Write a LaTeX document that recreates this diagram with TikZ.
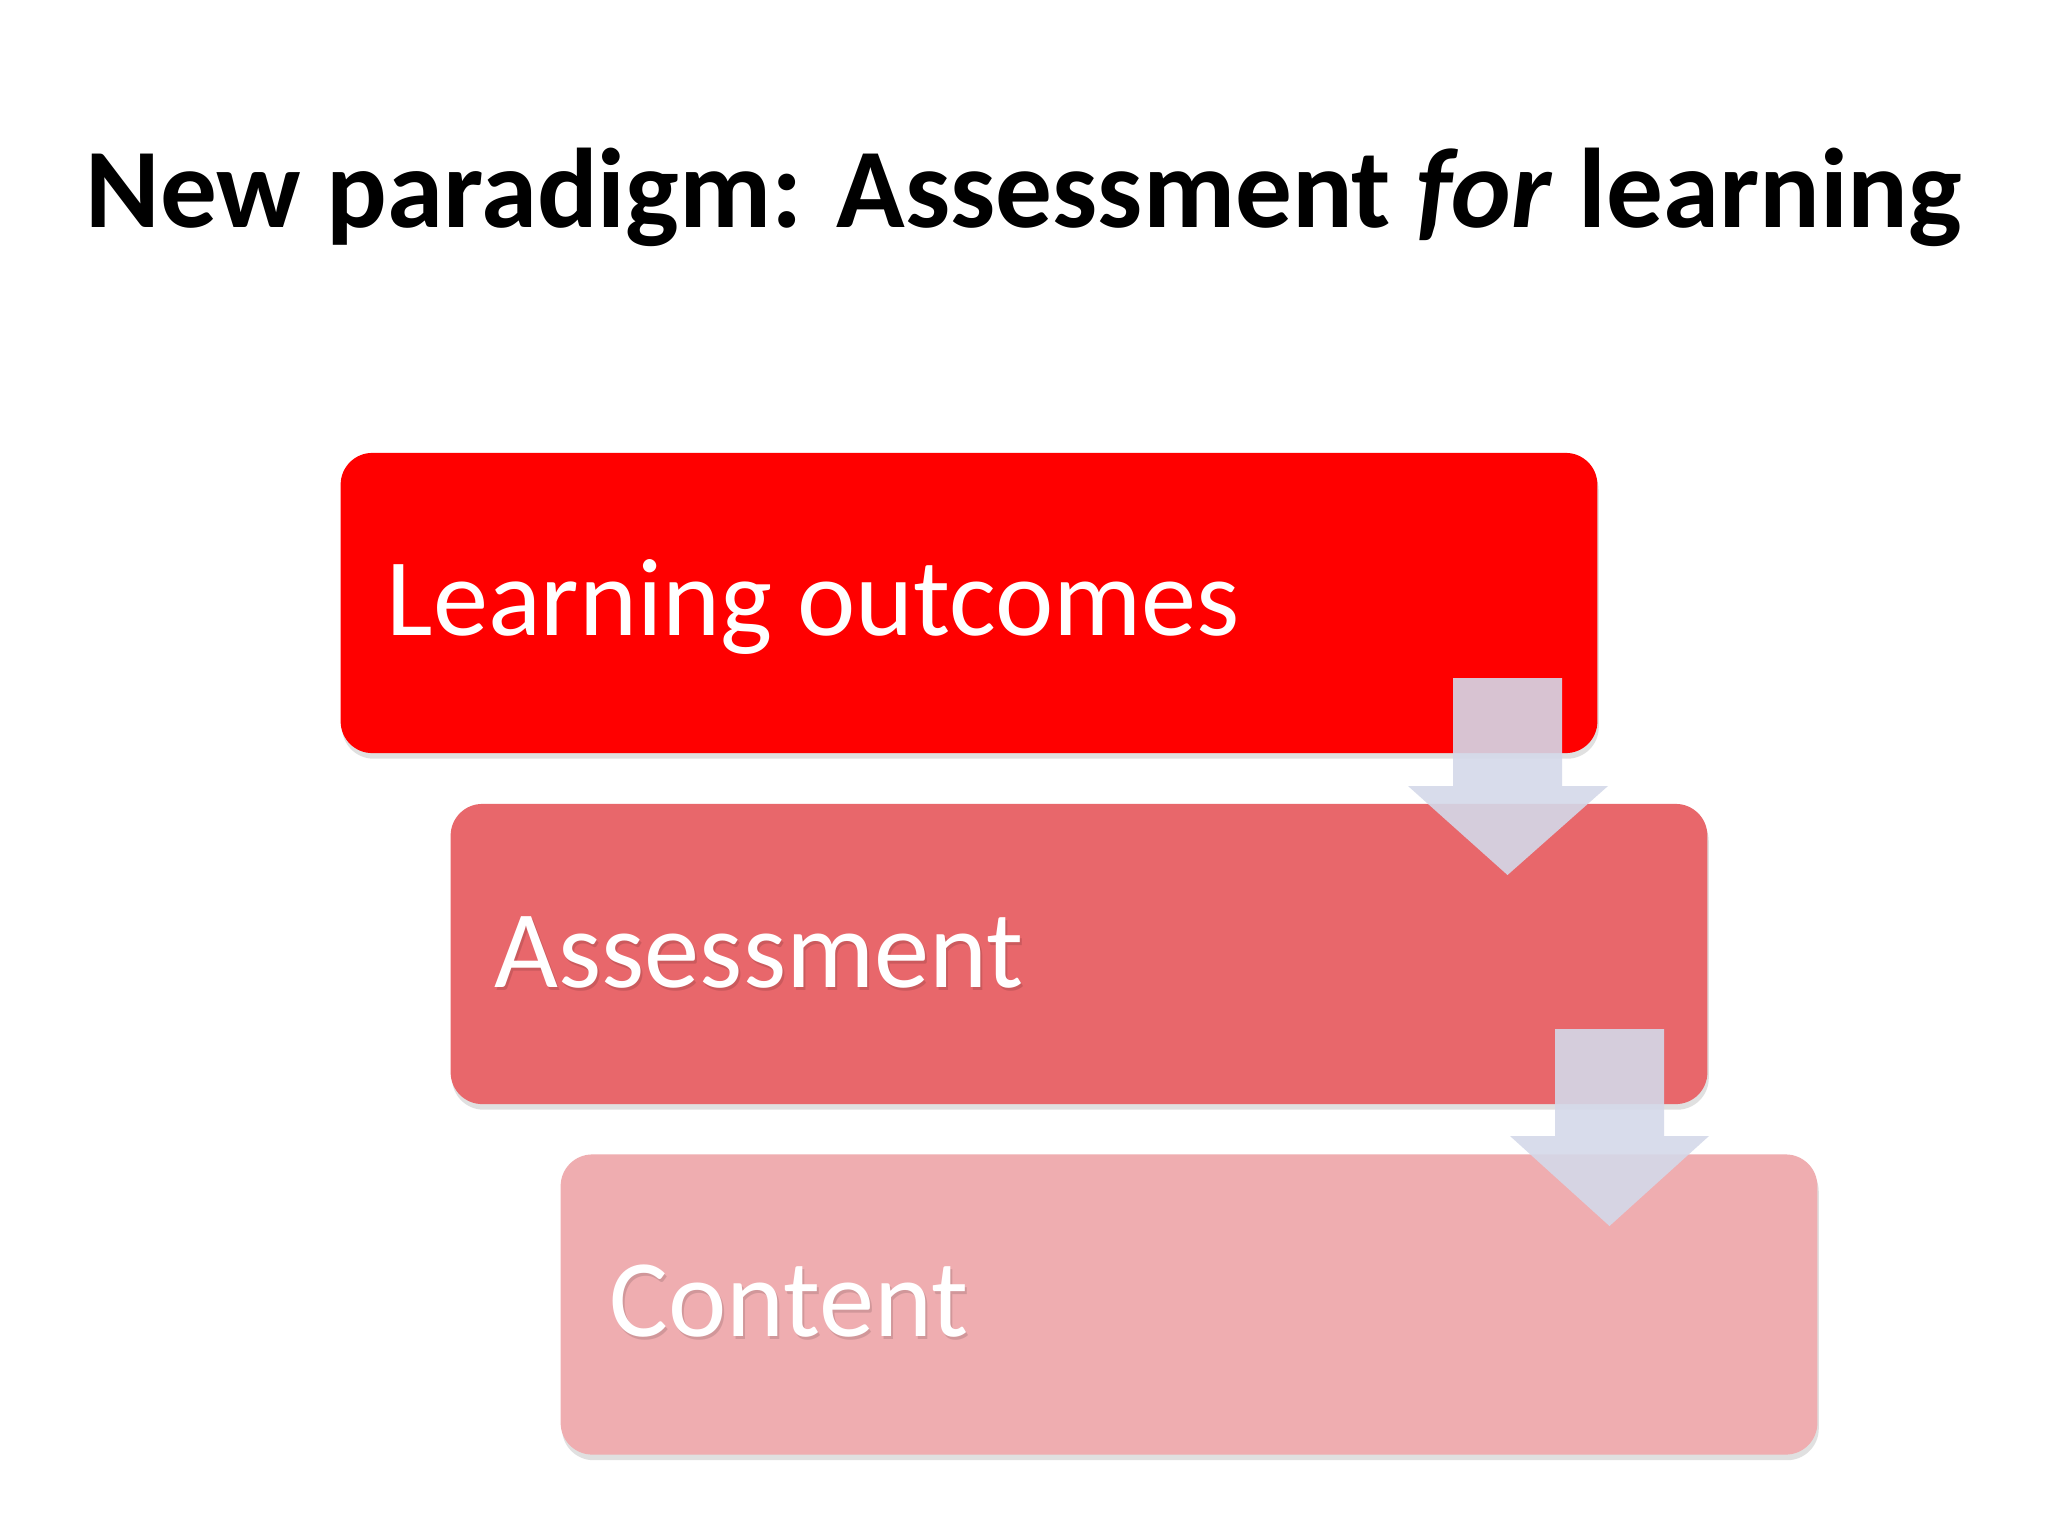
\documentclass[tikz,border=0pt]{standalone}
\usepackage{fontspec}
\setmainfont{Carlito}
\usetikzlibrary{shadows}
\definecolor{boxA}{RGB}{255,0,0}
\definecolor{boxB}{RGB}{232,103,107}
\definecolor{boxC}{RGB}{239,173,176}
\definecolor{arrowcol}{RGB}{212,217,233}
\tikzset{
  stepbox/.style={rectangle, rounded corners=9pt, minimum width=12.56cm, minimum height=3.0cm, inner sep=0pt, draw=none,
    drop shadow={shadow xshift=0.4pt, shadow yshift=-1.6pt, opacity=0.3, fill=black!40}},
  boxtext/.style={anchor=base west, text=white, inner sep=0pt, font=\fontsize{31.4}{37}\selectfont},
  blockarrow/.style={fill=arrowcol, fill opacity=0.9, draw=none}
}
\begin{document}
\begin{tikzpicture}[x=0.01cm,y=-0.01cm]
\useasboundingbox[fill=white] (0,0) rectangle (2048,1536);
% title
\node[anchor=base, inner sep=0pt, font=\fontsize{32.2}{38}\selectfont\bfseries] (title) at (1024,227) {New paradigm: Assessment \textit{for} learning};
% boxes
\node[stepbox, fill=boxA] (b1) at (969,603) {};
\node[stepbox, fill=boxB] (b2) at (1079,954) {};
\node[stepbox, fill=boxC] (b3) at (1189,1304.5) {};
% texts
\node[boxtext] (t1) at (386,635) {Learning outcomes};
\node[boxtext, text=black, opacity=0.12] (t2s) at (496,990) {Assessment};
\node[boxtext] (t2) at (494,987) {Assessment};
\node[boxtext, text=black, opacity=0.12] (t3s) at (611,1339) {Content};
\node[boxtext] (t3) at (609,1336) {Content};
% block arrows
\fill[blockarrow] (1453,678) -- (1562,678) -- (1562,786) -- (1608,786) -- (1507.5,875) -- (1408,786) -- (1453,786) -- cycle;
\fill[blockarrow] (1555,1029) -- (1664,1029) -- (1664,1136) -- (1709,1136) -- (1609.5,1226) -- (1510,1136) -- (1555,1136) -- cycle;
\end{tikzpicture}
\end{document}
